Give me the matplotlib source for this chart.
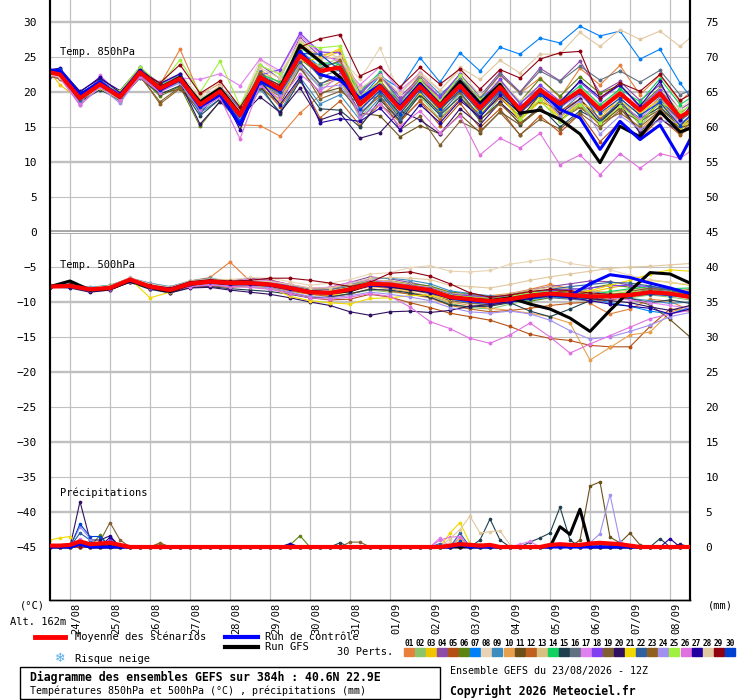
import matplotlib
matplotlib.use('Agg')
import matplotlib.pyplot as plt
from matplotlib.lines import Line2D
from matplotlib.patches import Rectangle

plt.rcParams['font.family'] = ['DejaVu Sans Mono', 'DejaVu Sans']

# echeances (heures depuis le 23/08 12Z)
h850 = [0, 6] + list(range(18, 379, 12)) + [384]
h500 = list(range(0, 385, 12))
hrr = list(range(0, 385, 6))

dates = ['24/08', '25/08', '26/08', '27/08', '28/08', '29/08', '30/08', '31/08',
         '01/09', '02/09', '03/09', '04/09', '05/09', '06/09', '07/09', '08/09']

colors = ['#e8803c', '#8cc46c', '#f0c400', '#8c4ca8', '#b45014', '#5c8410',
          '#0080f8', '#e8d4b4', '#3c8cc0', '#e8a04c', '#6c5018', '#c06020',
          '#d8c080', '#10d060', '#204050', '#607080', '#e080f0', '#8040f0',
          '#806030', '#301060', '#f0d800', '#3060a0', '#906020', '#a090f0',
          '#a0f040', '#e070e0', '#2000a0', '#e0c8a0', '#900010', '#0040d0']

# ---- temperature 850 hPa ----
t850_mean = [22.8, 22.5, 19.1, 21.1, 19.3, 22.8, 20.5, 21.9, 18.2, 20.1, 16.7, 22.1, 20.4, 25.2, 23.0, 23.5, 18.2,
             20.8, 17.6, 20.8, 18.0, 20.9, 17.7, 20.7, 17.5, 20.3, 18.3, 20.2, 17.5, 19.8, 17.4, 19.8, 16.4, 17.3]
t850_ctrl = [23.1, 23.0, 19.6, 21.4, 19.4, 23.0, 20.3, 21.8, 17.9, 19.6, 15.3, 21.6, 20.2, 25.8, 22.5, 21.7, 19.1,
             21.0, 17.9, 21.1, 18.1, 21.0, 18.0, 20.6, 17.6, 20.2, 17.5, 16.3, 11.8, 15.8, 13.2, 15.3, 10.5, 13.2]
t850_gfs = [22.9, 22.7, 19.3, 21.2, 19.2, 22.9, 20.6, 22.1, 18.6, 20.5, 16.9, 22.0, 20.5, 26.7, 24.4, 22.1, 18.3,
            20.9, 17.8, 21.2, 18.2, 21.5, 18.4, 21.1, 17.0, 17.4, 16.1, 14.0, 9.9, 15.1, 13.6, 17.2, 14.3, 14.8]
t850_p01 = [22.6, 22.3, 19.5, 21.4, 19.8, 22.5, 21.0, 26.1, 19.6, 21.2, 15.3, 15.2, 13.7, 17.0, 19.5, 21.5, 17.2,
            21.5, 18.5, 22.6, 18.9, 21.8, 19.0, 22.4, 19.8, 22.0, 19.2, 23.4, 21.0, 23.8, 19.6, 22.4, 18.6, 20.0]
t850_p02 = [22.7, 22.4, 19.6, 21.6, 19.9, 23.3, 20.2, 21.3, 17.4, 19.5, 15.6, 20.5, 18.9, 23.8, 20.8, 21.9, 16.2,
            19.9, 16.5, 19.4, 16.1, 19.8, 15.8, 19.2, 16.4, 18.8, 15.9, 18.4, 15.7, 18.9, 15.2, 18.1, 14.8, 16.0]
t850_p03 = [22.9, 21.0, 18.9, 20.8, 18.6, 22.9, 20.8, 22.5, 18.7, 20.9, 17.4, 22.9, 20.8, 27.0, 24.6, 25.8, 19.3,
            21.6, 18.2, 21.3, 17.1, 20.7, 16.8, 19.8, 16.0, 18.6, 16.4, 18.9, 16.1, 19.4, 15.5, 18.6, 14.6, 15.8]
t850_p04 = [23.0, 22.7, 19.3, 21.5, 19.2, 23.2, 20.9, 22.0, 18.8, 20.6, 17.2, 23.9, 21.9, 27.8, 25.1, 24.6, 19.6,
            22.6, 19.3, 22.1, 19.0, 22.5, 19.4, 22.8, 20.0, 23.4, 21.6, 24.4, 19.9, 21.5, 18.8, 21.0, 17.5, 18.4]
t850_p05 = [22.5, 22.6, 19.8, 20.9, 19.5, 22.4, 20.0, 21.7, 17.9, 19.8, 16.2, 21.4, 19.8, 24.3, 21.2, 22.1, 17.0,
            19.4, 15.9, 18.7, 15.2, 18.4, 14.9, 17.6, 13.8, 16.6, 14.2, 16.9, 12.9, 15.7, 13.4, 16.3, 13.9, 14.8]
t850_p06 = [22.6, 22.1, 18.7, 20.7, 19.0, 22.2, 19.4, 20.8, 15.1, 18.7, 15.6, 21.2, 19.6, 24.7, 22.5, 24.1, 18.4,
            20.1, 16.7, 19.6, 17.2, 21.3, 18.3, 21.6, 18.6, 21.9, 19.4, 22.2, 19.8, 21.0, 18.0, 20.6, 16.9, 18.1]
t850_p07 = [22.9, 22.8, 19.4, 21.7, 19.4, 23.0, 20.6, 22.1, 18.5, 20.3, 17.0, 22.6, 20.9, 25.9, 23.6, 24.3, 19.0,
            22.3, 20.5, 24.9, 21.4, 25.6, 23.0, 26.4, 25.4, 27.7, 27.0, 29.4, 28.0, 28.7, 24.7, 26.1, 21.3, 19.4]
t850_p08 = [22.4, 22.0, 19.0, 20.5, 19.8, 22.0, 21.5, 22.6, 19.4, 21.4, 17.9, 24.6, 22.6, 27.3, 25.9, 24.9, 21.8,
            26.3, 19.7, 22.9, 20.3, 23.1, 19.5, 21.8, 18.7, 21.0, 17.2, 18.8, 16.0, 18.6, 16.8, 20.4, 17.6, 18.8]
t850_p09 = [22.2, 22.0, 18.9, 20.6, 18.7, 22.3, 20.1, 21.5, 17.0, 19.0, 15.4, 20.4, 17.2, 22.1, 18.3, 19.6, 16.0,
            19.2, 17.5, 22.5, 19.7, 21.9, 19.1, 21.2, 18.5, 20.5, 17.1, 19.6, 17.2, 20.6, 16.4, 19.3, 15.8, 17.0]
t850_p10 = [22.7, 22.4, 19.2, 21.0, 19.0, 22.6, 20.4, 21.7, 17.7, 20.6, 16.1, 23.2, 21.2, 26.6, 25.2, 25.9, 20.3,
            22.2, 18.8, 22.0, 18.9, 21.2, 17.6, 20.1, 17.0, 19.3, 16.6, 18.0, 15.2, 17.8, 14.6, 17.3, 16.0, 17.9]
t850_p11 = [22.5, 22.2, 19.7, 21.2, 20.1, 22.1, 19.8, 20.4, 17.5, 19.3, 17.6, 20.6, 18.4, 23.4, 19.8, 20.6, 17.0,
            16.6, 13.6, 15.2, 14.0, 16.8, 14.2, 17.2, 15.3, 17.6, 15.9, 18.1, 15.4, 17.7, 14.3, 17.0, 14.9, 15.3]
t850_p12 = [22.8, 22.6, 19.0, 21.3, 19.6, 22.5, 20.2, 22.3, 18.6, 20.4, 16.9, 21.0, 17.9, 21.7, 16.3, 18.7, 15.2,
            18.3, 15.7, 18.8, 16.0, 19.0, 16.9, 19.1, 16.6, 18.7, 17.3, 19.0, 16.2, 18.2, 15.9, 18.4, 16.1, 16.9]
t850_p13 = [22.6, 22.4, 19.3, 20.9, 19.3, 22.9, 20.7, 21.4, 18.0, 20.0, 17.3, 22.4, 21.5, 24.6, 23.8, 24.8, 19.4,
            21.4, 17.9, 21.6, 18.8, 21.5, 18.5, 21.4, 18.4, 20.9, 17.5, 20.7, 18.0, 20.2, 16.9, 19.0, 16.3, 17.5]
t850_p14 = [22.9, 22.5, 19.5, 21.4, 19.8, 23.1, 21.1, 22.3, 18.9, 20.7, 17.9, 22.6, 21.4, 26.4, 24.2, 24.0, 20.1,
            22.8, 18.3, 21.3, 18.2, 21.0, 18.0, 20.4, 17.2, 20.1, 18.6, 20.9, 18.2, 20.4, 18.6, 21.9, 18.2, 19.1]
t850_p15 = [22.4, 22.1, 18.6, 20.3, 18.9, 22.0, 19.7, 20.9, 16.6, 19.0, 16.1, 20.9, 16.9, 21.6, 17.6, 17.4, 15.0,
            18.9, 15.9, 19.6, 16.7, 19.3, 16.0, 18.6, 15.4, 17.9, 15.0, 17.3, 15.8, 18.4, 16.2, 17.8, 15.3, 16.4]
t850_p16 = [22.6, 22.3, 19.1, 21.0, 19.3, 22.7, 20.3, 21.9, 18.3, 20.2, 16.3, 22.4, 20.1, 25.4, 22.1, 23.2, 18.5,
            21.2, 18.6, 21.8, 18.6, 21.9, 19.1, 22.5, 19.9, 23.0, 21.5, 23.7, 21.7, 23.0, 21.4, 23.1, 19.6, 20.2]
t850_p17 = [22.5, 22.2, 18.3, 22.4, 19.6, 22.2, 21.4, 22.0, 21.8, 22.6, 20.9, 24.7, 23.0, 28.1, 25.5, 24.3, 21.0,
            23.6, 20.2, 22.7, 19.1, 21.0, 17.9, 20.2, 17.6, 20.0, 17.8, 19.6, 16.8, 18.5, 16.1, 19.0, 15.4, 16.6]
t850_p18 = [23.1, 22.9, 19.5, 21.8, 19.7, 23.4, 21.2, 22.5, 18.6, 20.8, 17.6, 22.4, 23.2, 28.4, 25.7, 25.6, 19.9,
            22.5, 18.9, 21.7, 19.3, 22.6, 18.6, 21.8, 18.3, 21.0, 18.7, 21.4, 18.9, 21.0, 17.8, 20.3, 16.5, 17.2]
t850_p19 = [22.3, 22.0, 19.2, 20.6, 19.1, 22.2, 18.6, 20.7, 17.3, 19.4, 15.6, 21.0, 19.4, 23.8, 19.0, 20.1, 18.4,
            19.5, 14.6, 16.5, 12.4, 15.8, 14.4, 17.1, 13.9, 16.1, 14.7, 17.0, 14.9, 17.4, 15.8, 17.5, 15.2, 16.0]
t850_p20 = [23.0, 23.2, 20.1, 21.9, 20.2, 23.5, 20.9, 21.4, 15.4, 18.6, 16.4, 19.3, 17.1, 20.6, 16.0, 17.0, 13.4,
            14.2, 17.3, 16.0, 14.0, 17.6, 15.3, 18.5, 16.0, 19.7, 16.9, 19.0, 15.6, 18.3, 14.1, 16.2, 14.3, 15.0]
t850_p21 = [22.7, 22.2, 19.0, 20.5, 18.9, 22.6, 20.4, 21.5, 17.8, 19.5, 15.0, 21.9, 18.6, 24.2, 24.9, 26.2, 18.1,
            20.1, 17.0, 19.8, 17.4, 20.7, 16.9, 19.6, 15.9, 19.4, 16.3, 18.5, 16.9, 18.6, 17.0, 18.9, 14.9, 16.3]
t850_p22 = [22.9, 22.7, 18.8, 21.0, 19.5, 22.9, 20.1, 22.2, 17.0, 19.9, 16.0, 23.0, 19.7, 24.3, 21.1, 22.6, 16.7,
            19.9, 16.2, 20.1, 16.9, 20.0, 16.5, 19.9, 17.0, 20.4, 17.7, 20.3, 15.9, 18.7, 15.6, 18.8, 16.0, 17.1]
t850_p23 = [22.3, 21.8, 19.4, 20.9, 19.4, 22.4, 18.3, 20.5, 18.5, 20.3, 17.3, 22.7, 20.0, 25.8, 23.3, 24.5, 18.7,
            21.7, 17.8, 21.1, 17.7, 20.0, 16.1, 18.3, 15.6, 17.5, 16.0, 17.8, 15.5, 17.0, 15.0, 17.4, 14.0, 15.6]
t850_p24 = [22.6, 22.3, 18.1, 20.7, 18.4, 22.4, 20.0, 21.3, 17.4, 19.3, 16.1, 20.9, 19.6, 23.7, 20.6, 21.0, 17.2,
            20.4, 17.4, 20.9, 18.1, 20.9, 18.2, 21.0, 17.7, 20.2, 16.5, 18.7, 14.0, 16.6, 14.7, 15.9, 15.6, 16.3]
t850_p25 = [22.8, 22.4, 19.6, 21.3, 20.1, 23.6, 21.0, 24.6, 19.9, 24.4, 18.0, 23.8, 22.5, 26.9, 26.3, 26.6, 19.4,
            21.3, 18.0, 21.7, 18.7, 22.4, 18.9, 20.6, 16.2, 18.9, 15.8, 18.2, 15.5, 18.0, 15.8, 18.5, 17.1, 18.0]
t850_p26 = [22.4, 22.0, 18.1, 20.8, 18.9, 22.1, 19.9, 21.7, 17.6, 19.2, 13.3, 21.0, 19.0, 22.6, 20.1, 22.4, 16.4,
            18.3, 15.1, 17.3, 14.2, 16.6, 11.0, 13.4, 12.0, 14.1, 9.6, 11.0, 8.2, 11.2, 9.1, 11.2, 10.5, 11.5]
t850_p27 = [23.2, 23.4, 20.0, 22.1, 19.9, 23.1, 21.2, 22.6, 18.4, 20.3, 14.6, 21.6, 18.2, 22.1, 15.6, 16.2, 15.8,
            17.7, 14.6, 18.2, 15.6, 18.8, 16.4, 19.5, 17.0, 19.8, 18.5, 21.6, 19.2, 21.0, 18.0, 21.5, 16.0, 17.9]
t850_p28 = [22.5, 22.1, 19.3, 21.2, 19.6, 22.7, 20.6, 22.0, 19.1, 20.8, 17.3, 23.4, 22.0, 27.4, 24.7, 25.1, 20.5,
            22.4, 19.8, 22.6, 20.2, 23.5, 21.8, 24.5, 22.7, 25.4, 25.4, 28.5, 26.5, 28.9, 27.5, 28.7, 26.5, 27.7]
t850_p29 = [22.8, 22.5, 19.4, 21.2, 19.6, 22.9, 21.3, 23.9, 19.8, 21.6, 17.8, 22.2, 21.0, 26.4, 27.6, 28.2, 22.3,
            23.6, 20.7, 23.5, 21.1, 23.3, 20.4, 23.2, 22.0, 24.7, 25.6, 25.8, 19.1, 21.3, 20.1, 22.5, 18.8, 19.6]
t850_p30 = [23.0, 23.3, 19.8, 21.6, 19.4, 22.6, 20.3, 21.6, 17.9, 19.8, 15.9, 21.3, 20.0, 25.5, 25.4, 23.1, 17.5,
            20.2, 16.9, 20.4, 17.5, 20.3, 17.2, 20.1, 17.1, 19.6, 18.0, 19.8, 17.0, 19.1, 16.7, 18.5, 15.2, 16.6]

t850_perts = [t850_p01, t850_p02, t850_p03, t850_p04, t850_p05, t850_p06, t850_p07, t850_p08, t850_p09, t850_p10,
              t850_p11, t850_p12, t850_p13, t850_p14, t850_p15, t850_p16, t850_p17, t850_p18, t850_p19, t850_p20,
              t850_p21, t850_p22, t850_p23, t850_p24, t850_p25, t850_p26, t850_p27, t850_p28, t850_p29, t850_p30]

# ---- temperature 500 hPa ----
t500_mean = [-7.8, -7.7, -8.2, -8.0, -6.8, -7.8, -8.3, -7.4, -7.1, -7.3, -7.3, -7.5, -8.0, -8.6, -8.7, -8.2, -7.4,
             -7.5, -7.9, -8.3, -9.3, -9.6, -9.9, -9.6, -9.1, -8.8, -9.0, -9.2, -9.2, -9.0, -8.6, -8.8, -9.3]
t500_ctrl = [-7.8, -7.7, -8.2, -8.0, -6.9, -7.8, -8.2, -7.4, -7.1, -7.4, -7.4, -7.6, -8.1, -8.6, -8.7, -8.2, -7.5,
             -7.6, -8.0, -8.4, -9.4, -9.8, -10.0, -9.6, -9.1, -8.9, -9.1, -7.4, -6.1, -6.5, -7.3, -8.0, -8.8]
t500_gfs = [-7.8, -7.0, -8.3, -8.1, -7.0, -7.9, -8.5, -7.5, -7.1, -7.4, -7.3, -7.5, -8.1, -8.5, -8.7, -8.4, -7.4,
            -7.6, -8.1, -8.4, -9.3, -9.6, -9.8, -9.4, -10.3, -11.0, -12.3, -14.2, -11.2, -8.4, -5.8, -6.0, -7.3]
t500_p01 = [-7.9, -7.6, -8.0, -7.7, -6.6, -7.5, -8.0, -7.0, -6.5, -4.3, -7.0, -6.8, -7.6, -8.2, -8.0, -7.6, -6.9,
            -7.2, -7.6, -8.0, -9.0, -9.3, -9.1, -8.8, -8.2, -7.5, -8.1, -10.2, -11.7, -11.0, -9.6, -9.9, -11.2]
t500_p02 = [-7.7, -7.8, -8.4, -8.2, -7.0, -8.0, -8.5, -7.6, -7.4, -7.7, -7.9, -8.1, -8.6, -9.3, -9.4, -8.8, -8.3,
            -8.6, -8.8, -9.1, -10.2, -10.8, -11.0, -10.3, -9.7, -9.3, -9.5, -9.8, -9.6, -9.4, -9.0, -9.3, -9.7]
t500_p03 = [-7.8, -7.5, -8.1, -7.6, -6.9, -7.4, -7.9, -7.2, -6.8, -6.9, -7.2, -7.7, -8.4, -8.9, -9.1, -8.5, -7.6,
            -7.9, -8.4, -8.2, -8.9, -9.2, -9.5, -9.0, -8.6, -8.3, -8.5, -8.6, -8.0, -7.5, -6.9, -7.2, -7.6]
t500_p04 = [-7.9, -7.8, -8.3, -7.9, -6.6, -7.6, -8.2, -7.2, -6.9, -7.0, -6.6, -6.9, -7.5, -8.1, -7.9, -7.2, -6.4,
            -6.7, -7.2, -7.8, -8.8, -9.0, -9.3, -8.9, -8.3, -7.8, -7.4, -7.0, -7.1, -7.6, -8.1, -8.3, -8.5]
t500_p05 = [-7.7, -7.9, -8.5, -8.3, -7.1, -8.1, -8.6, -7.9, -7.7, -7.9, -7.7, -7.9, -8.7, -9.4, -9.7, -9.6, -8.9,
            -9.3, -10.1, -10.8, -11.6, -12.1, -12.6, -13.5, -14.6, -15.2, -15.5, -16.2, -16.4, -16.4, -13.5, -11.0, -11.3]
t500_p06 = [-7.8, -7.6, -8.1, -7.8, -6.7, -7.7, -8.1, -7.3, -7.0, -7.3, -7.5, -7.2, -7.8, -8.3, -8.6, -8.0, -7.1,
            -7.0, -7.4, -7.7, -8.6, -8.8, -9.4, -9.6, -9.9, -9.4, -8.7, -8.0, -7.5, -7.9, -8.4, -8.1, -8.9]
t500_p07 = [-7.8, -7.7, -8.2, -8.1, -6.9, -7.9, -8.4, -7.5, -7.2, -7.4, -7.1, -7.3, -8.1, -8.8, -8.9, -8.3, -7.6,
            -7.8, -8.1, -8.6, -9.6, -10.1, -10.4, -10.1, -9.6, -9.3, -9.4, -9.5, -10.1, -10.6, -11.3, -11.7, -10.8]
t500_p08 = [-7.7, -7.5, -8.0, -7.8, -6.5, -7.4, -7.9, -7.1, -6.7, -6.8, -6.5, -6.6, -7.1, -7.6, -7.3, -6.8, -6.0,
            -5.8, -5.1, -4.8, -5.6, -5.7, -5.5, -4.6, -4.2, -3.8, -4.5, -4.9, -5.4, -6.2, -6.8, -7.2, -7.5]
t500_p09 = [-7.6, -7.4, -7.9, -7.6, -6.6, -7.3, -7.8, -7.0, -6.6, -7.1, -7.0, -7.1, -7.7, -8.2, -8.3, -7.5, -6.7,
            -6.6, -6.9, -7.4, -8.4, -8.8, -9.1, -9.2, -8.9, -8.4, -8.0, -8.4, -9.0, -9.5, -9.8, -10.2, -10.0]
t500_p10 = [-7.9, -7.8, -8.3, -8.1, -7.0, -8.0, -8.4, -7.6, -7.3, -7.5, -7.5, -7.8, -8.2, -8.8, -8.9, -8.5, -7.8,
            -8.1, -8.6, -9.1, -10.0, -10.5, -10.9, -11.2, -11.6, -12.1, -13.0, -18.3, -16.5, -14.7, -14.3, -11.5, -10.5]
t500_p11 = [-7.8, -7.9, -8.4, -8.2, -7.0, -7.9, -8.5, -7.7, -7.5, -7.6, -7.4, -7.6, -8.0, -8.5, -8.6, -8.0, -7.3,
            -7.4, -7.7, -8.1, -9.1, -9.4, -9.6, -9.1, -8.6, -8.4, -8.6, -8.9, -9.2, -9.6, -10.4, -12.5, -15.0]
t500_p12 = [-7.7, -7.6, -8.2, -7.9, -6.8, -7.8, -8.2, -7.3, -7.0, -7.2, -7.6, -7.8, -8.4, -8.9, -9.2, -8.9, -8.1,
            -8.4, -8.9, -9.4, -10.5, -11.0, -11.4, -11.2, -10.9, -10.5, -10.2, -10.0, -9.7, -9.3, -8.8, -8.5, -8.2]
t500_p13 = [-7.8, -7.7, -8.1, -7.9, -6.7, -7.6, -8.1, -7.3, -7.0, -7.1, -7.1, -7.3, -7.7, -8.2, -8.3, -7.7, -6.9,
            -7.0, -7.5, -7.9, -8.8, -9.1, -9.3, -8.8, -8.3, -7.9, -8.1, -8.4, -8.6, -8.3, -7.9, -8.0, -8.4]
t500_p14 = [-7.9, -7.8, -8.3, -8.1, -6.9, -7.9, -8.4, -7.5, -7.2, -7.4, -7.4, -7.5, -7.9, -8.6, -8.7, -8.3, -7.5,
            -7.7, -8.1, -8.5, -9.3, -9.7, -10.0, -9.7, -9.3, -9.0, -9.3, -9.0, -8.5, -8.1, -7.8, -8.1, -8.0]
t500_p15 = [-7.8, -7.9, -8.4, -8.2, -7.2, -8.2, -8.7, -7.9, -7.8, -8.1, -8.3, -8.5, -8.9, -9.4, -9.3, -8.8, -8.2,
            -8.3, -8.7, -9.3, -10.4, -10.7, -10.6, -10.1, -11.3, -12.1, -11.0, -9.8, -8.9, -9.5, -10.1, -9.7, -10.2]
t500_p16 = [-7.8, -7.7, -8.2, -8.0, -6.8, -7.8, -8.3, -7.4, -7.1, -7.2, -7.0, -7.2, -7.6, -8.1, -8.2, -7.8, -7.0,
            -7.3, -7.7, -8.2, -9.2, -9.5, -9.8, -9.5, -9.2, -9.4, -9.6, -9.8, -9.3, -8.7, -8.2, -8.5, -8.7]
t500_p17 = [-7.7, -7.6, -8.0, -7.8, -6.6, -7.5, -8.0, -7.1, -6.8, -7.0, -6.8, -7.0, -7.5, -8.0, -7.9, -7.2, -6.8,
            -7.2, -7.7, -8.3, -9.3, -9.5, -9.8, -9.4, -9.0, -8.7, -8.9, -9.1, -9.4, -9.7, -10.1, -10.5, -10.9]
t500_p18 = [-7.9, -7.8, -8.4, -8.1, -6.9, -7.9, -8.3, -7.3, -7.0, -7.2, -7.1, -7.2, -7.7, -8.4, -8.5, -8.0, -7.1,
            -7.3, -7.6, -8.0, -8.9, -9.1, -9.3, -9.2, -8.8, -8.4, -8.2, -8.0, -7.7, -7.6, -7.8, -8.2, -8.6]
t500_p19 = [-7.8, -7.7, -8.3, -8.0, -6.8, -7.7, -8.2, -7.4, -7.2, -7.4, -7.6, -7.7, -8.1, -8.5, -8.6, -8.3, -7.7,
            -7.9, -8.3, -8.8, -9.8, -10.2, -10.4, -10.0, -9.4, -9.0, -9.2, -9.4, -9.0, -8.5, -8.0, -8.3, -9.0]
t500_p20 = [-7.9, -8.0, -8.6, -8.3, -7.1, -8.1, -8.7, -8.0, -7.9, -8.3, -8.6, -8.9, -9.4, -10.0, -10.5, -11.4, -11.9,
            -11.4, -11.3, -11.5, -11.2, -10.6, -10.4, -10.0, -9.5, -9.1, -9.3, -9.5, -9.8, -10.1, -10.7, -11.2, -10.5]
t500_p21 = [-7.7, -7.5, -8.0, -7.7, -6.7, -9.4, -8.6, -7.6, -7.3, -7.5, -7.8, -7.9, -9.2, -9.8, -10.1, -10.3, -9.5,
            -9.4, -9.1, -9.0, -9.6, -9.8, -10.0, -9.5, -9.0, -8.6, -8.8, -8.4, -7.6, -6.9, -6.0, -5.4, -5.6]
t500_p22 = [-7.8, -7.7, -8.2, -8.0, -6.8, -7.8, -8.2, -7.5, -7.2, -7.3, -7.2, -7.4, -7.8, -8.4, -8.6, -8.1, -7.3,
            -7.5, -7.9, -8.3, -9.2, -9.4, -9.7, -9.4, -8.8, -8.2, -7.8, -7.5, -7.2, -7.3, -7.7, -8.3, -8.8]
t500_p23 = [-7.8, -7.8, -8.2, -8.0, -6.9, -7.9, -8.3, -7.4, -7.1, -7.4, -7.3, -7.4, -7.9, -8.5, -8.6, -8.1, -7.3,
            -7.4, -7.8, -8.1, -9.0, -9.3, -9.6, -9.3, -8.9, -8.6, -8.8, -9.0, -9.2, -9.1, -8.8, -8.6, -9.0]
t500_p24 = [-7.7, -7.7, -8.3, -8.1, -7.0, -8.0, -8.5, -7.7, -7.5, -7.7, -7.7, -8.0, -8.6, -9.2, -9.4, -9.1, -8.6,
            -8.9, -9.3, -9.8, -10.8, -11.4, -11.6, -11.3, -11.7, -12.6, -14.1, -15.3, -15.0, -14.2, -13.3, -12.1, -11.5]
t500_p25 = [-7.8, -7.6, -8.1, -7.9, -6.7, -7.7, -8.2, -7.3, -7.0, -7.2, -7.3, -7.4, -7.9, -8.5, -8.5, -7.9, -7.1,
            -7.3, -7.7, -8.1, -9.0, -9.3, -9.6, -9.2, -8.7, -8.5, -8.8, -9.0, -8.8, -8.6, -8.4, -8.6, -9.1]
t500_p26 = [-7.8, -7.7, -8.3, -8.1, -7.0, -8.0, -8.5, -7.8, -7.6, -7.8, -7.9, -8.2, -8.8, -9.4, -9.6, -9.3, -8.8,
            -9.2, -10.7, -12.8, -13.8, -15.2, -15.9, -14.7, -13.0, -15.0, -17.3, -16.0, -14.8, -13.6, -12.4, -11.7, -11.2]
t500_p27 = [-7.9, -7.8, -8.3, -8.0, -6.9, -7.9, -8.4, -7.5, -7.2, -7.5, -7.4, -7.6, -8.1, -8.7, -8.8, -8.4, -7.7,
            -7.9, -8.2, -8.7, -9.5, -9.9, -10.2, -10.0, -9.5, -9.1, -9.4, -9.8, -10.3, -10.6, -10.9, -11.7, -11.0]
t500_p28 = [-7.7, -7.5, -8.0, -7.7, -6.6, -7.4, -7.9, -7.0, -6.7, -6.9, -6.9, -7.1, -7.5, -8.0, -8.0, -7.4, -6.6,
            -6.5, -6.6, -6.8, -7.6, -7.8, -8.0, -7.5, -6.9, -6.4, -6.0, -5.6, -5.2, -5.0, -4.9, -4.7, -4.5]
t500_p29 = [-7.8, -7.5, -8.1, -7.8, -6.7, -7.6, -8.0, -7.1, -6.8, -7.0, -6.9, -6.6, -6.6, -6.9, -7.3, -7.8, -7.2,
            -5.9, -5.7, -6.3, -7.4, -8.7, -9.3, -9.0, -8.5, -8.2, -8.4, -8.7, -8.9, -8.8, -8.5, -8.7, -9.0]
t500_p30 = [-7.8, -7.7, -8.2, -8.0, -6.8, -7.8, -8.3, -7.4, -7.1, -7.3, -7.2, -7.4, -7.9, -8.6, -8.7, -8.2, -7.4,
            -7.5, -7.9, -8.2, -9.1, -9.5, -9.8, -9.5, -9.0, -8.6, -8.8, -9.0, -9.2, -9.1, -8.9, -9.1, -9.4]

t500_perts = [t500_p01, t500_p02, t500_p03, t500_p04, t500_p05, t500_p06, t500_p07, t500_p08, t500_p09, t500_p10,
              t500_p11, t500_p12, t500_p13, t500_p14, t500_p15, t500_p16, t500_p17, t500_p18, t500_p19, t500_p20,
              t500_p21, t500_p22, t500_p23, t500_p24, t500_p25, t500_p26, t500_p27, t500_p28, t500_p29, t500_p30]

# ---- precipitations (mm / 6h) ----
rr_mean = [0.2, 0.2, 0.3, 0.8, 0.4, 0.5, 0.6, 0.3, 0, 0, 0, 0, 0,
           0, 0, 0, 0, 0, 0, 0, 0, 0, 0, 0, 0, 0,
           0, 0, 0, 0, 0, 0, 0, 0, 0, 0, 0, 0, 0,
           0, 0.2, 0.4, 0.3, 0.2, 0.3, 0, 0, 0, 0, 0, 0.3, 0.4,
           0.3, 0.3, 0.5, 0.6, 0.5, 0.4, 0.2, 0, 0, 0, 0, 0, 0]
rr_ctrl = [0, 0, 0, 0.4, 0, 0, 0, 0, 0, 0, 0, 0, 0,
           0, 0, 0, 0, 0, 0, 0, 0, 0, 0, 0, 0, 0,
           0, 0, 0, 0, 0, 0, 0, 0, 0, 0, 0, 0, 0,
           0, 0, 0.3, 0, 0, 0, 0, 0, 0, 0, 0, 0, 0,
           0, 0, 0, 0, 0, 0, 0, 0, 0, 0, 0, 0, 0]
rr_gfs = [0, 0, 0, 0.5, 0, 0, 0, 0, 0, 0, 0, 0, 0,
          0, 0, 0, 0, 0, 0, 0, 0, 0, 0, 0, 0, 0,
          0, 0, 0, 0, 0, 0, 0, 0, 0, 0, 0, 0, 0,
          0, 0, 0, 0, 0, 0, 0, 0, 0, 0, 0, 0, 2.9,
          1.8, 5.4, 0, 0, 0, 0, 0, 0, 0, 0, 0, 0, 0]
rr_p01 = [0, 0, 0, 0.6, 0.3, 0, 0, 0, 0, 0, 0, 0, 0,
          0, 0, 0, 0, 0, 0, 0, 0, 0, 0, 0, 0, 0,
          0, 0, 0, 0, 0, 0, 0, 0, 0, 0, 0, 0, 0,
          0, 0, 0, 0, 0, 0, 0, 0, 0, 0, 0, 0, 0,
          0, 0, 0, 0, 0, 0, 0, 0, 0, 0, 0, 0, 0]
rr_p02 = [0, 0, 0, 0.5, 0, 0, 0, 0, 0, 0, 0, 0, 0,
          0, 0, 0, 0, 0, 0, 0, 0, 0, 0, 0, 0, 0,
          0, 0, 0, 0, 0, 0, 0, 0, 0, 0, 0, 0, 0,
          0, 0, 0, 0, 0, 0, 0, 0, 0, 0, 0, 0, 0,
          0, 0, 0, 0, 0, 0, 0, 0, 0, 0, 0, 0, 0]
rr_p03 = [0, 0, 0, 0, 0, 0, 0, 0, 0, 0, 0, 0, 0,
          0, 0, 0, 0, 0, 0, 0, 0, 0, 0, 0, 0, 0,
          0, 0, 0, 0, 0, 0, 0, 0, 0, 0, 0, 0, 0,
          0, 0, 1.2, 0, 0, 0, 0, 0, 0, 0, 0, 0, 0,
          0, 0, 0, 0, 0, 0, 0, 0, 0, 0, 0, 0, 0]
rr_p04 = [0, 0, 0, 0.9, 0, 0, 0.8, 0, 0, 0, 0, 0, 0,
          0, 0, 0, 0, 0, 0, 0, 0, 0, 0, 0, 0, 0,
          0, 0, 0, 0, 0, 0, 0, 0, 0, 0, 0, 0, 0,
          0, 0, 0, 0, 0, 0, 0, 0, 0, 0, 0, 0, 0,
          0, 0, 0, 0, 0, 0, 0, 0, 0, 0, 0, 0, 0]
rr_p05 = [0, 0, 0, 0, 0, 0, 0, 0, 0, 0, 0, 0, 0,
          0, 0, 0, 0, 0, 0, 0, 0, 0, 0, 0, 0, 0,
          0, 0, 0, 0, 0, 0, 0, 0, 0, 0, 0, 0, 0,
          0, 0, 0, 0.4, 0, 0, 0, 0, 0, 0, 0, 0, 0,
          0, 0, 0, 0, 0, 0, 0, 0, 0, 0, 0, 0, 0]
rr_p06 = [0, 0, 0, 0, 0, 1.7, 0, 0, 0, 0, 0, 0, 0,
          0, 0, 0, 0, 0, 0, 0, 0, 0, 0, 0, 0.3, 1.6,
          0, 0, 0, 0, 0, 0, 0, 0, 0, 0, 0, 0, 0,
          0, 0, 0, 0, 0, 0, 0, 0, 0, 0, 0, 0, 0,
          0, 0, 0, 0, 0, 0, 0, 0, 0, 0, 0, 0, 0]
rr_p07 = [0, 0, 0, 0.4, 0, 0, 0, 0, 0, 0, 0, 0, 0,
          0, 0, 0, 0, 0, 0, 0, 0, 0, 0, 0, 0, 0,
          0, 0, 0, 0, 0, 0, 0, 0, 0, 0, 0, 0, 0,
          0, 0, 0, 0, 0, 0, 0, 0, 0, 0, 0, 0, 0,
          0, 0, 0, 0, 0, 0, 0, 0, 0, 0, 0, 0, 0]
rr_p08 = [0, 0, 0, 0, 0, 0, 0, 0, 0, 0, 0, 0, 0,
          0, 0, 0, 0, 0, 0, 0, 0, 0, 0, 0, 0, 0,
          0, 0, 0, 0, 0, 0, 0, 0, 0, 0, 0, 0, 0,
          0, 0.7, 0, 0, 0, 0, 0, 0, 0, 0, 0, 0, 0,
          0, 0, 0, 0, 0, 0, 0, 0, 0, 0, 0, 0, 0]
rr_p09 = [0, 0, 0, 0.6, 0, 0, 0, 0, 0, 0, 0, 0, 0,
          0, 0, 0, 0, 0, 0, 0, 0, 0, 0, 0, 0, 0,
          0, 0, 0, 0, 0, 0, 0, 0, 0, 0, 0, 0, 0,
          0, 0, 0.6, 0, 0, 0, 0, 0, 0, 0, 0, 0, 0,
          0, 0, 0, 0, 0, 0, 0, 0, 0, 0, 0, 0, 0]
rr_p10 = [0, 0, 0, 0, 0, 0, 0.5, 0, 0, 0, 0, 0, 0,
          0, 0, 0, 0, 0, 0, 0, 0, 0, 0, 0, 0, 0,
          0, 0, 0, 0, 0, 0, 0, 0, 0, 0, 0, 0, 0,
          0, 0, 0, 0, 0, 0, 0, 0, 0, 0, 0, 0, 0,
          0, 0, 0, 0, 0, 0, 0, 0, 0, 0, 0, 0, 0]
rr_p11 = [0, 0, 0, 0, 0, 0, 0, 0, 0, 0, 0, 0, 0,
          0, 0, 0, 0, 0, 0, 0, 0, 0, 0, 0, 0, 0,
          0, 0, 0, 0, 0, 0, 0, 0, 0, 0, 0, 0, 0,
          0, 0, 0, 0, 0, 0, 0, 0, 0, 0, 0, 0, 0,
          0, 1.0, 8.7, 9.3, 1.4, 0.6, 2.0, 0.3, 0, 0, 0, 0, 0]
rr_p12 = [0, 0, 0, 0, 0, 0, 0, 0, 0, 0, 0, 0.5, 0,
          0, 0, 0, 0, 0, 0, 0, 0, 0, 0, 0, 0, 0,
          0, 0, 0, 0, 0, 0, 0, 0, 0, 0, 0, 0, 0,
          0, 0, 0, 0, 0, 0, 0, 0, 0, 0, 0, 0, 0,
          0, 0, 0, 0, 0, 0, 0, 0, 0, 0, 0, 0, 0]
rr_p13 = [0, 0, 0, 0, 0, 0, 0, 0, 0, 0, 0, 0, 0,
          0, 0, 0, 0, 0, 0, 0, 0, 0, 0, 0, 0, 0,
          0, 0, 0, 0, 0, 0, 0, 0, 0, 0, 0, 0, 0,
          0, 0, 0, 0, 0.5, 0, 0, 0, 0, 0, 0, 0, 0,
          0, 0, 0, 0, 0, 0, 0, 0, 0, 0, 0, 0, 0]
rr_p14 = [0, 0, 0, 0, 0, 0, 0, 0, 0, 0, 0, 0, 0,
          0, 0, 0, 0, 0, 0, 0, 0, 0, 0, 0, 0, 0,
          0, 0, 0, 0, 0, 0, 0, 0, 0, 0, 0, 0, 0,
          0, 0, 0.4, 0, 0, 0, 0, 0, 0, 0, 0, 0, 0,
          0, 0, 0, 0, 0, 0, 0, 0, 0, 0, 0, 0, 0]
rr_p15 = [0, 0, 0, 0, 0, 0, 0, 0, 0, 0, 0, 0, 0,
          0, 0, 0, 0, 0, 0, 0, 0, 0, 0, 0, 0, 0,
          0, 0, 0, 0.6, 0, 0, 0, 0, 0, 0, 0, 0, 0,
          0, 0, 0, 0, 1.0, 4.0, 1.0, 0, 0, 0.7, 1.3, 2.0, 5.7,
          1.0, 0, 0, 0, 0, 0, 0, 0, 0, 1.2, 0, 0, 0]
rr_p16 = [0, 0, 0, 0.5, 0, 0, 0, 0, 0, 0, 0, 0, 0,
          0, 0, 0, 0, 0, 0, 0, 0, 0, 0, 0, 0, 0,
          0, 0, 0, 0, 0, 0, 0, 0, 0, 0, 0, 0, 0,
          0, 0, 0, 0, 0, 0, 0, 0, 0, 0, 0, 0, 0,
          0, 0, 0, 0, 0, 0, 0, 0, 0, 0, 0, 0, 0]
rr_p17 = [0, 0, 0, 1.2, 0, 0, 0, 0, 0, 0, 0, 0, 0,
          0, 0, 0, 0, 0, 0, 0, 0, 0, 0, 0, 0, 0,
          0, 0, 0, 0, 0, 0, 0, 0, 0, 0, 0, 0, 0,
          1.3, 0, 1.5, 0, 0, 0, 0, 0, 0.4, 0.8, 0, 0, 0,
          0, 0, 0, 0, 0, 0, 0, 0, 0, 0, 0, 0, 0]
rr_p18 = [0, 0, 0, 0, 0, 0, 1.0, 0, 0, 0, 0, 0, 0,
          0, 0, 0, 0, 0, 0, 0, 0, 0, 0, 0, 0, 0,
          0, 0, 0, 0, 0, 0, 0, 0, 0, 0, 0, 0, 0,
          0, 0, 0, 0, 0, 0, 0, 0, 0, 0, 0, 0, 0,
          0, 0, 0, 0, 0, 0, 0, 0, 0, 0, 0, 0, 0]
rr_p19 = [0, 0, 0, 0, 0, 0.8, 3.5, 1.0, 0, 0, 0, 0, 0,
          0, 0, 0, 0, 0, 0, 0, 0, 0, 0, 0, 0, 0,
          0, 0, 0, 0, 0.7, 0.7, 0, 0, 0, 0, 0, 0, 0,
          0, 0, 0, 0, 0, 0, 0, 0, 0, 0, 0, 0, 0,
          0, 0, 0, 0, 0, 0, 0, 0, 0, 0, 0, 0, 0]
rr_p20 = [0, 0, 0, 6.5, 1.0, 1.0, 1.6, 0, 0, 0, 0, 0, 0,
          0, 0, 0, 0, 0, 0, 0, 0, 0, 0, 0, 0.5, 0,
          0, 0, 0, 0, 0, 0, 0, 0, 0, 0, 0, 0, 0,
          0, 0, 0, 0, 0, 0, 0, 0, 0, 0, 0, 0, 0,
          0, 0, 0, 0, 0, 0, 0, 0, 0, 0, 0, 0.4, 0]
rr_p21 = [1.0, 1.3, 1.5, 0, 0, 0, 0, 0, 0, 0, 0, 0, 0,
          0, 0, 0, 0, 0, 0, 0, 0, 0, 0, 0, 0, 0,
          0, 0, 0, 0, 0, 0, 0, 0, 0, 0, 0, 0, 0,
          0, 2.0, 3.5, 0.5, 0, 0, 0, 0, 0, 0, 0, 0, 0,
          0, 0, 0, 0, 0, 0, 0, 0, 0, 0, 0, 0, 0]
rr_p22 = [0, 0, 0, 2.0, 1.0, 0, 0, 0, 0, 0, 0, 0, 0,
          0, 0, 0, 0, 0, 0, 0, 0, 0, 0, 0, 0, 0,
          0, 0, 0, 0, 0, 0, 0, 0, 0, 0, 0, 0, 0,
          0.5, 0, 2.0, 0, 0, 0, 0, 0, 0, 0, 0, 0, 0,
          0, 0, 0, 0, 0, 0, 0, 0, 0, 0, 0, 0, 0]
rr_p23 = [0, 0, 0, 0, 0, 0, 0, 0, 0, 0, 0, 0.6, 0,
          0, 0, 0, 0, 0, 0, 0, 0, 0, 0, 0, 0, 0,
          0, 0, 0, 0, 0, 0, 0, 0, 0, 0, 0, 0, 0,
          0, 0, 0, 0, 0, 0, 0, 0, 0, 0, 0, 0, 0,
          0, 0, 0, 0, 0, 0, 0, 0, 0, 0, 0, 0, 0]
rr_p24 = [0, 0, 0, 2.9, 1.2, 0, 0, 0, 0, 0, 0, 0, 0,
          0, 0, 0, 0, 0, 0, 0, 0, 0, 0, 0, 0, 0,
          0, 0, 0, 0, 0, 0, 0, 0, 0, 0, 0, 0, 0,
          0, 0, 0, 0, 0, 0, 0, 0, 0, 0, 0, 0, 0,
          0, 0, 0.6, 1.9, 7.5, 0.8, 0, 0, 0, 0, 0, 0, 0]
rr_p25 = [0, 0, 0, 0, 0, 0, 0, 0, 0, 0, 0, 0, 0,
          0, 0, 0, 0, 0, 0, 0, 0, 0, 0, 0, 0, 0,
          0, 0, 0, 0, 0, 0, 0, 0, 0, 0, 0, 0, 0,
          0, 0, 0.5, 0, 0, 0, 0, 0, 0, 0, 0, 0, 0,
          0, 0, 0, 0, 0, 0, 0, 0, 0, 0, 0, 0, 0]
rr_p26 = [0, 0, 0, 0, 0, 0, 0, 0, 0, 0, 0, 0, 0,
          0, 0, 0, 0, 0, 0, 0, 0, 0, 0, 0, 0, 0,
          0, 0, 0, 0, 0, 0, 0, 0, 0, 0, 0, 0, 0,
          1.0, 1.4, 1.5, 0, 0, 0, 0, 0, 0, 0, 0, 0, 0,
          0, 0, 0, 0, 0, 0, 0, 0, 0, 0, 0, 0, 0]
rr_p27 = [0, 0, 0, 0, 0, 0, 1.4, 0, 0, 0, 0, 0, 0,
          0, 0, 0, 0, 0, 0, 0, 0, 0, 0, 0, 0.4, 0,
          0, 0, 0, 0, 0, 0, 0, 0, 0, 0, 0, 0, 0,
          0, 0, 0, 0, 0, 0, 0, 0, 0, 0, 0, 0, 0,
          0, 0, 0, 0, 0, 0, 0, 0, 0, 0, 1.2, 0, 0]
rr_p28 = [0, 0, 0, 0, 0, 0, 0, 0, 0, 0, 0, 0, 0,
          0, 0, 0, 0, 0, 0, 0, 0, 0, 0, 0, 0, 0,
          0, 0, 0, 0, 0, 0, 0, 0, 0, 0, 0, 0, 0,
          0, 1.2, 2.5, 4.4, 2.0, 2.2, 2.3, 0.3, 0, 0, 0, 0, 0,
          0, 0, 0, 0, 0, 0, 0, 0, 0, 0, 0, 0, 0]
rr_p29 = [0, 0, 0, 0, 0, 0, 0.5, 0, 0, 0, 0, 0, 0,
          0, 0, 0, 0, 0, 0, 0, 0, 0, 0, 0, 0, 0,
          0, 0, 0, 0, 0, 0, 0, 0, 0, 0, 0, 0, 0,
          0, 0, 0, 0, 0, 0, 0, 0, 0, 0, 0, 0, 0,
          0, 0, 0, 0, 0, 0, 0, 0, 0, 0, 0, 0, 0]
rr_p30 = [0, 0, 0, 3.3, 1.5, 1.5, 0, 0, 0, 0, 0, 0, 0,
          0, 0, 0, 0, 0, 0, 0, 0, 0, 0, 0, 0, 0,
          0, 0, 0, 0, 0, 0, 0, 0, 0, 0, 0, 0, 0,
          0, 0, 0.8, 0, 0, 0, 0, 0, 0, 0, 0, 0, 0,
          0, 0, 0, 0, 0, 0, 0, 0, 0, 0, 0, 0, 0]

rr_perts = [rr_p01, rr_p02, rr_p03, rr_p04, rr_p05, rr_p06, rr_p07, rr_p08, rr_p09, rr_p10,
            rr_p11, rr_p12, rr_p13, rr_p14, rr_p15, rr_p16, rr_p17, rr_p18, rr_p19, rr_p20,
            rr_p21, rr_p22, rr_p23, rr_p24, rr_p25, rr_p26, rr_p27, rr_p28, rr_p29, rr_p30]

W, H = 740, 700


def fx(x):
    return x / W


def fy(y):
    return 1 - y / H


fig = plt.figure(figsize=(7.4, 7.0), dpi=100)
ax = fig.add_axes([fx(50), 100 / H, 640 / W, 600 / H])
ylo, yhi = -52.57, 33.14
ax.set_xlim(0, 384)
ax.set_ylim(ylo, yhi)

# grille
grid_c = '#c0c0c0'
for v in range(-45, 31, 5):
    if v == 0:
        continue
    ax.axhline(v, color=grid_c, lw=1.7 if v % 10 == 0 else 0.8, zorder=0)
ax.axhline(0, color='#a8a8a8', lw=2.8, zorder=0.5)
ax.axhline(0, color='white', lw=0.7, zorder=0.6)
for h in range(12, 384, 24):
    ax.axvline(h, color=grid_c, lw=0.9, zorder=0)

# 850 hPa
for c, s in zip(colors, t850_perts):
    ax.plot(h850, s, color=c, lw=0.8, marker='o', ms=1.8, zorder=2)
ax.plot(h850, t850_gfs, color='black', lw=2.2, zorder=3)
ax.plot(h850, t850_ctrl, color='#0000ff', lw=2.2, zorder=3)
ax.plot(h850, t850_mean, color='#ff0000', lw=3.0, zorder=4)

# 500 hPa
for c, s in zip(colors, t500_perts):
    ax.plot(h500, s, color=c, lw=0.8, marker='o', ms=1.8, zorder=2)
ax.plot(h500, t500_gfs, color='black', lw=2.2, zorder=3)
ax.plot(h500, t500_ctrl, color='#0000ff', lw=2.2, zorder=3)
ax.plot(h500, t500_mean, color='#ff0000', lw=3.0, zorder=4)

# precipitations sur l'axe de droite
ax2 = ax.twinx()
ax2.set_ylim(ylo + 45, yhi + 45)
for c, s in zip(colors, rr_perts):
    ax2.plot(hrr, s, color=c, lw=0.8, marker='o', ms=1.6, zorder=2)
ax2.plot(hrr, rr_gfs, color='black', lw=2.2, zorder=3)
ax2.plot(hrr, rr_ctrl, color='#0000ff', lw=2.2, zorder=3)
ax2.plot(hrr, rr_mean, color='#ff0000', lw=3.0, zorder=4)

ax.set_yticks(range(-45, 31, 5))
ax.tick_params(axis='y', length=0, pad=9.5, labelsize=8)
ax2.set_yticks(range(0, 76, 5))
ax2.tick_params(axis='y', length=0, pad=11, labelsize=8)
ax.set_xticks([])
ax.set_xticks(range(16, 384, 24), labels=dates, minor=True, rotation=90)
ax.tick_params(axis='x', which='both', length=0, pad=2, labelsize=7.5)

for a in (ax, ax2):
    a.spines['top'].set_visible(False)
    a.spines['left'].set_linewidth(1.5)
    a.spines['right'].set_linewidth(1.5)
    a.spines['bottom'].set_linewidth(1.0)

ax.text(6, 25.7, 'Temp. 850hPa', fontsize=7.5, va='center')
ax.text(6, -4.7, 'Temp. 500hPa', fontsize=7.5, va='center')
ax.text(6, -37.3, 'Précipitations', fontsize=7.5, va='center')

# textes et legende sous le graphique
fs = 7.5
fig.text(fx(32), fy(606), '(°C)', ha='center', va='center', fontsize=fs)
fig.text(fx(720), fy(606), '(mm)', ha='center', va='center', fontsize=fs)
fig.text(fx(10), fy(622), 'Alt. 162m', ha='left', va='center', fontsize=fs)

fig.add_artist(Line2D([fx(35), fx(65)], [fy(637), fy(637)], color='#ff0000', lw=3.5))
fig.text(fx(75), fy(637), 'Moyenne des scénarios', va='center', fontsize=fs)
fig.add_artist(Line2D([fx(225), fx(258)], [fy(637), fy(637)], color='#0000ff', lw=3))
fig.text(fx(265), fy(637), 'Run de contrôle', va='center', fontsize=fs)
fig.add_artist(Line2D([fx(225), fx(258)], [fy(647), fy(647)], color='black', lw=3))
fig.text(fx(265), fy(647), 'Run GFS', va='center', fontsize=fs)
fig.text(fx(60), fy(659), '\u2744', color='#50a8e8', ha='center', va='center', fontsize=9,
         family='DejaVu Sans')
fig.text(fx(75), fy(659), 'Risque neige', va='center', fontsize=fs)
fig.text(fx(393), fy(652), '30 Perts.', ha='right', va='center', fontsize=fs)

for i, c in enumerate(colors):
    x0 = 404 + 11.06 * i
    fig.add_artist(Rectangle((fx(x0), fy(656)), 10 / W, 8 / H, color=c))
    fig.text(fx(x0 + 5), fy(643), '%02d' % (i + 1), ha='center', va='center',
             fontsize=5.6, weight='bold')

fig.add_artist(Rectangle((fx(20), fy(699)), 420 / W, 32 / H, fill=False, ec='black', lw=1))
fig.text(fx(30), fy(677), 'Diagramme des ensembles GEFS sur 384h : 40.6N 22.9E',
         va='center', fontsize=8.3, weight='bold')
fig.text(fx(30), fy(691), 'Températures 850hPa et 500hPa (°C) , précipitations (mm)',
         va='center', fontsize=7.2)
fig.text(fx(450), fy(671), 'Ensemble GEFS du 23/08/2026 - 12Z', va='center', fontsize=7.2)
fig.text(fx(450), fy(691), 'Copyright 2026 Meteociel.fr', va='center', fontsize=8.3, weight='bold')

fig.savefig('out.png', dpi=100)
